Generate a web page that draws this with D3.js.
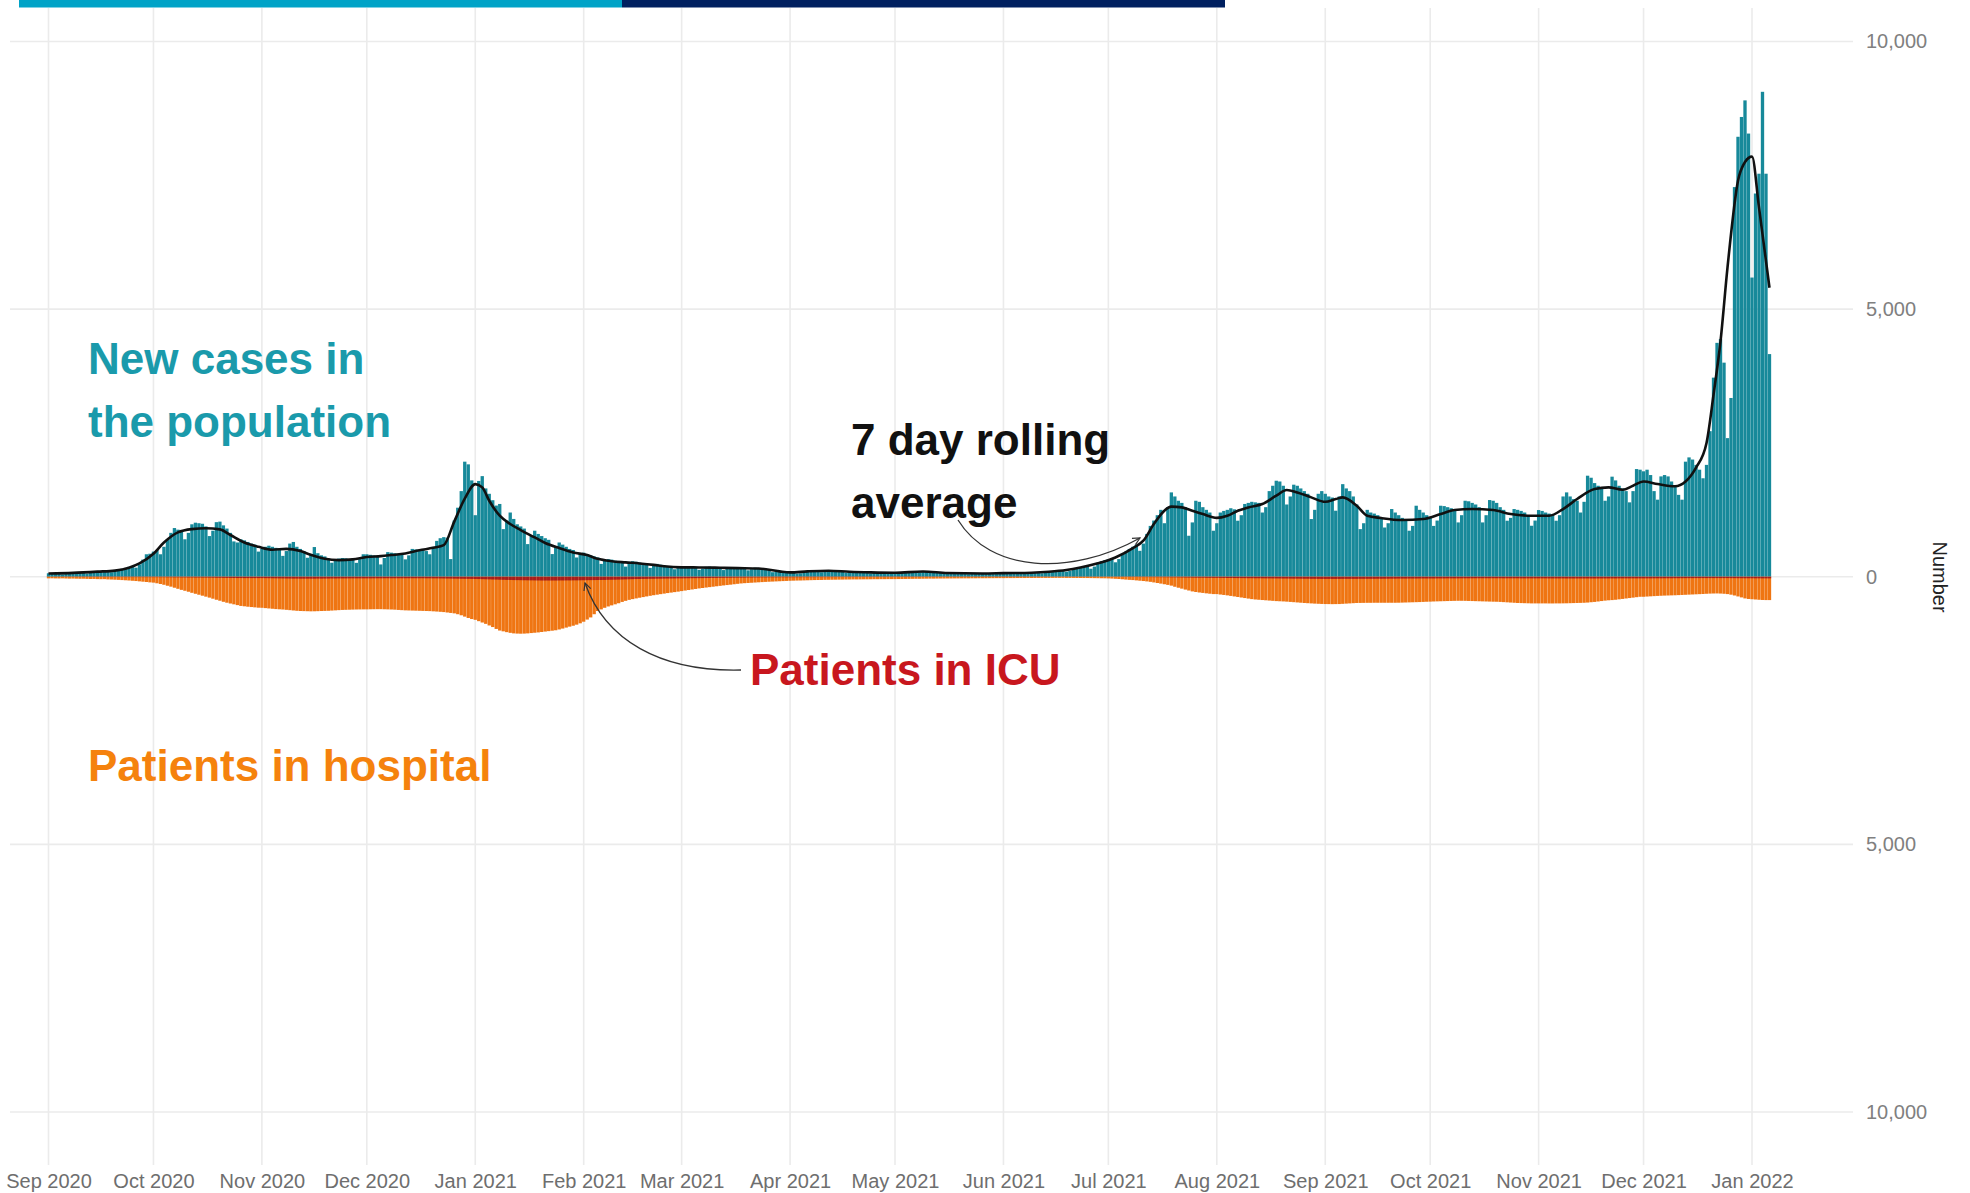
<!DOCTYPE html>
<html><head><meta charset="utf-8">
<script src="https://cdn.jsdelivr.net/npm/d3@7"></script>
<style>
body{margin:0;background:#fff;}
svg{display:block;font-family:"Liberation Sans",Arial,sans-serif;}
</style>
</head><body>
<svg id="chart" width="1970" height="1193"></svg>
<script>
// ---------------- DATA ----------------
const startDate = "2020-09-01"; // first daily bar
// New cases in the population (daily)
const cases = [
/*Sep20*/65,62,60,58,45,55,70,78,75,80,78,60,72,95,100,98,105,110,85,105,140,150,165,185,200,170,230,320,420,430,
/*Oct20*/470,500,420,560,700,820,910,880,860,700,820,980,1010,1000,990,940,760,860,1020,1030,960,900,820,660,640,700,680,650,620,600,470,
/*Nov20*/520,560,580,560,540,520,390,480,620,650,560,520,480,355,420,555,440,400,380,340,262,300,340,350,345,330,340,260,330,420,
/*Dec20*/420,410,400,390,230,350,460,450,440,430,420,325,400,520,510,500,505,480,420,560,670,720,740,730,330,1050,1290,1600,2150,2100,1800,
/*Jan21*/1150,1790,1880,1650,1550,1430,1330,1360,890,1050,1200,1080,980,940,900,610,760,860,800,760,720,690,424,560,640,600,560,520,500,360,430,
/*Feb21*/450,420,400,380,360,240,300,330,320,300,295,285,190,250,290,280,265,255,245,165,210,240,225,210,200,195,140,165,
/*Mar21*/190,185,190,185,180,130,150,185,190,180,175,170,125,145,180,175,170,168,160,120,140,170,165,160,150,130,85,95,110,105,95,
/*Apr21*/85,70,60,65,80,110,115,112,110,85,95,120,118,110,105,100,75,85,98,95,92,88,85,62,72,85,82,80,78,75,
/*May21*/55,65,72,90,95,98,100,80,90,105,100,92,85,80,55,62,75,72,70,68,66,48,55,68,66,64,62,65,50,58,62,
/*Jun21*/70,72,74,76,55,62,78,82,80,84,86,65,75,100,105,110,118,120,95,110,150,165,175,185,195,150,190,260,290,310,
/*Jul21*/330,350,270,330,420,470,520,560,600,485,620,800,950,1050,1150,1250,1000,1300,1576,1500,1420,1380,1300,766,1015,1420,1400,1300,1250,1200,860,
/*Aug21*/1000,1200,1230,1250,1280,1260,1047,1150,1360,1380,1400,1390,1380,1200,1300,1600,1700,1794,1780,1700,1350,1500,1720,1700,1650,1600,1550,1078,1250,1550,1600,
/*Sep21*/1550,1500,1480,1234,1500,1730,1650,1600,1500,1350,890,1000,1250,1200,1180,1150,1100,920,1000,1265,1200,1150,1100,1050,860,950,1327,1250,1200,1150,
/*Oct21*/1100,950,1050,1327,1320,1300,1280,1250,1015,1150,1420,1410,1380,1350,1300,1015,1150,1433,1420,1380,1300,1250,1047,1100,1265,1250,1230,1200,1150,953,1050,
/*Nov21*/1246,1230,1200,1180,1150,1047,1150,1500,1576,1500,1450,1420,1200,1400,1888,1850,1750,1700,1650,1420,1500,1870,1800,1700,1650,1600,1390,1600,2012,2000,
/*Dec21*/1970,2000,1900,1600,1440,1875,1900,1875,1780,1690,1530,1440,2150,2230,2190,2090,2000,1840,2090,2720,3720,4370,4440,4000,2590,3340,7280,8220,8590,8900,8280,
/*Jan22*/5590,7160,7530,9060,7530,4160
];
// Patients in hospital (daily)
const hospital = [
/*Sep20*/30,29,31,32,30,33,35,34,36,38,37,40,42,41,44,46,45,50,52,55,58,62,66,70,75,80,86,92,98,105,
/*Oct20*/110,122,135,150,168,185,205,225,245,262,280,300,318,336,354,372,390,410,430,448,468,485,500,515,530,545,552,560,566,572,578,
/*Nov20*/580,586,592,598,604,608,612,618,624,630,636,640,642,644,646,645,643,640,638,636,632,628,624,620,618,616,614,612,611,610,
/*Dec20*/610,608,607,606,606,608,610,612,615,620,624,628,630,632,634,636,638,640,642,646,650,655,660,668,676,684,700,720,745,770,790,
/*Jan21*/805,830,855,880,910,940,975,1005,1020,1035,1048,1058,1062,1064,1062,1058,1052,1046,1040,1032,1024,1016,1008,1000,985,968,950,932,915,895,870,
/*Feb21*/840,800,760,700,640,610,580,555,535,515,495,470,450,432,418,405,392,380,368,356,345,335,325,315,305,296,287,278,
/*Mar21*/268,258,248,238,228,218,210,202,194,186,178,170,162,155,148,140,132,125,120,116,112,108,104,100,96,93,90,87,84,81,78,
/*Apr21*/75,73,71,70,68,66,64,62,61,60,58,57,56,55,54,53,52,51,50,50,49,48,48,47,46,46,45,45,44,44,
/*May21*/44,43,42,41,40,39,38,38,37,36,35,35,34,33,33,32,32,31,31,30,30,30,29,29,28,28,28,27,27,26,26,
/*Jun21*/26,25,25,25,24,24,24,23,23,23,22,22,22,22,21,21,21,21,22,22,22,23,23,24,24,25,26,27,28,29,
/*Jul21*/31,34,38,42,47,53,58,62,68,74,80,87,95,106,117,128,140,152,166,187,205,222,240,257,274,285,294,302,310,317,324,
/*Aug21*/324,332,340,348,358,368,378,388,398,408,418,425,430,435,440,445,450,455,458,461,465,470,475,480,485,490,494,498,502,505,508,
/*Sep21*/510,511,512,511,510,506,502,498,494,490,489,488,487,487,486,486,486,486,486,486,486,485,483,481,479,477,475,473,470,467,
/*Oct21*/465,462,460,458,456,454,452,450,449,449,450,452,454,456,458,460,462,464,466,467,470,474,478,482,486,490,492,494,496,498,498,
/*Nov21*/498,498,498,499,499,498,498,497,496,494,492,490,488,486,482,476,470,462,454,446,440,436,430,422,414,406,398,390,382,374,
/*Dec21*/374,370,366,362,358,355,352,350,348,346,343,340,337,334,331,328,325,322,318,315,313,312,314,318,324,335,350,368,386,405,415,
/*Jan22*/420,425,430,434,436,436
];
// Patients in ICU (daily)
const icu = [
/*Sep20*/3,3,3,4,4,4,4,4,4,5,5,5,5,5,5,5,6,6,6,6,6,6,7,7,7,7,7,8,8,8,
/*Oct20*/8,8,9,9,10,10,11,11,12,12,13,13,14,14,15,15,16,17,18,19,20,21,22,23,24,24,25,25,25,25,25,
/*Nov20*/25,26,27,28,29,30,31,32,33,34,34,35,35,35,35,35,34,34,33,33,32,32,31,31,31,30,30,30,30,30,
/*Dec20*/30,30,29,29,29,28,28,28,28,28,28,28,28,28,28,28,28,29,29,30,30,31,32,33,34,35,36,37,38,39,40,
/*Jan21*/41,43,45,47,49,51,53,55,57,59,60,62,63,64,65,66,67,68,69,70,70,70,70,70,69,69,68,68,67,67,66,
/*Feb21*/65,64,63,62,61,60,59,57,56,55,53,51,49,47,45,43,42,40,39,38,37,36,35,34,33,32,31,30,
/*Mar21*/30,29,28,27,26,26,25,24,23,22,21,20,19,19,18,17,16,16,15,14,14,13,13,12,12,11,11,11,10,10,10,
/*Apr21*/10,9,9,9,8,8,8,8,7,7,7,7,7,6,6,6,6,6,6,5,5,5,5,5,5,5,5,5,5,5,
/*May21*/5,5,5,5,5,5,4,4,4,4,4,4,4,4,4,4,4,4,4,4,4,4,4,4,4,4,4,4,4,4,4,
/*Jun21*/4,4,4,4,4,4,4,3,3,3,3,3,3,3,3,3,3,3,3,3,3,3,3,3,3,3,3,3,3,3,
/*Jul21*/3,3,3,4,4,4,5,5,5,6,6,7,7,8,8,9,9,10,11,11,12,13,14,15,16,17,18,18,19,20,20,
/*Aug21*/20,21,22,23,23,24,25,25,26,27,27,28,28,29,30,30,31,31,32,33,33,34,35,35,36,37,37,38,38,39,40,
/*Sep21*/40,40,40,40,40,39,39,39,39,39,38,38,38,38,38,37,37,36,36,35,35,34,34,34,33,33,33,32,32,32,
/*Oct21*/32,32,31,31,31,30,30,30,30,29,29,29,29,28,28,28,28,28,28,28,28,29,29,29,29,29,30,30,30,30,30,
/*Nov21*/30,30,30,31,31,31,31,31,32,32,32,32,32,32,32,32,32,32,31,31,31,31,31,30,30,30,30,30,30,30,
/*Dec21*/30,30,30,29,29,29,28,28,28,27,27,27,26,26,26,25,25,25,25,25,25,25,25,25,25,26,26,27,27,28,28,
/*Jan22*/28,29,29,30,30,30
];
// 7 day rolling average of new cases (read at points along the curve)
const rollDates = ["2020-09-01","2020-09-08","2020-09-15","2020-09-20","2020-09-24","2020-09-27","2020-10-01","2020-10-04","2020-10-08","2020-10-12","2020-10-16","2020-10-20","2020-10-23","2020-10-27","2020-10-31",
"2020-11-04","2020-11-08","2020-11-12","2020-11-15","2020-11-19","2020-11-23","2020-11-27","2020-12-01","2020-12-05","2020-12-08","2020-12-12","2020-12-16","2020-12-20","2020-12-23","2020-12-26","2020-12-29",
"2021-01-01","2021-01-03","2021-01-05","2021-01-08","2021-01-11","2021-01-14","2021-01-18","2021-01-21","2021-01-25","2021-01-29","2021-02-02","2021-02-05","2021-02-09","2021-02-13","2021-02-17","2021-02-21","2021-02-24",
"2021-03-01","2021-03-06","2021-03-12","2021-03-17","2021-03-23","2021-03-29","2021-04-01","2021-04-06","2021-04-12","2021-04-18","2021-04-24","2021-05-01","2021-05-09","2021-05-16","2021-05-26",
"2021-06-01","2021-06-09","2021-06-14","2021-06-19","2021-06-23","2021-06-28","2021-07-03","2021-07-08","2021-07-11","2021-07-14","2021-07-17","2021-07-19","2021-07-22","2021-07-25","2021-07-28",
"2021-08-01","2021-08-04","2021-08-07","2021-08-10","2021-08-14","2021-08-18","2021-08-21","2021-08-24","2021-08-28","2021-09-01","2021-09-04","2021-09-06","2021-09-10","2021-09-13","2021-09-17","2021-09-23","2021-09-29",
"2021-10-04","2021-10-08","2021-10-13","2021-10-19","2021-10-24","2021-10-30","2021-11-04","2021-11-08","2021-11-12","2021-11-17","2021-11-21","2021-11-25","2021-11-28",
"2021-12-01","2021-12-05","2021-12-10","2021-12-13","2021-12-16","2021-12-19","2021-12-21","2021-12-23","2021-12-25","2021-12-28","2021-12-30","2022-01-01","2022-01-03","2022-01-06"];
const rollValues = [60,72,95,115,170,250,430,640,830,890,905,885,780,640,560,
505,520,480,410,335,310,325,370,385,405,435,495,540,590,1030,1460,
1730,1670,1420,1140,985,872,735,630,536,455,405,335,290,268,249,222,195,
175,174,168,162,155,100,82,100,112,93,82,76,98,70,62,
68,76,93,125,172,250,360,536,673,984,1234,1310,1296,1234,1171,
1100,1140,1234,1296,1358,1514,1620,1576,1483,1400,1452,1483,1327,1140,1096,1059,1078,
1171,1246,1265,1246,1171,1140,1140,1265,1452,1638,1670,1626,1701,
1780,1732,1690,1780,2040,2500,3400,4400,5780,7400,7750,7850,6900,5400];
// axis ticks
const monthTicks = ["2020-09-01","2020-10-01","2020-11-01","2020-12-01","2021-01-01","2021-02-01","2021-03-01","2021-04-01","2021-05-01","2021-06-01","2021-07-01","2021-08-01","2021-09-01","2021-10-01","2021-11-01","2021-12-01","2022-01-01"];
const yTickValues = [10000, 5000, 0, -5000, -10000];
const yAxisTitle = "Number";
const labelCases = ["New cases in", "the population"];
const labelRoll = ["7 day rolling", "average"];
const labelICU = "Patients in ICU";
const labelHosp = "Patients in hospital";

// ---------------- CHART ----------------
const svg = d3.select("#chart");
const parse = d3.utcParse("%Y-%m-%d");
const t0 = parse(startDate);
const dates = cases.map((_, i) => d3.utcDay.offset(t0, i));

const x = d3.scaleUtc()
  .domain([parse("2020-09-01"), parse("2022-01-01")])
  .range([48.5, 1752]);
const y = d3.scaleLinear().domain([-10000, 10000]).range([1112, 41.5]);
const dayW = x(parse("2020-09-02")) - x(parse("2020-09-01"));
const bw = dayW * 0.95;

// top decorative strip
svg.append("rect").attr("x", 19).attr("y", 0).attr("width", 603).attr("height", 7.5).attr("fill", "#00A3C7");
svg.append("rect").attr("x", 622).attr("y", 0).attr("width", 603).attr("height", 7.5).attr("fill", "#002060");

// grid
const grid = svg.append("g");
grid.selectAll("line.h").data(yTickValues).join("line")
  .attr("x1", 10).attr("x2", 1853)
  .attr("y1", d => y(d)).attr("y2", d => y(d))
  .attr("stroke", "#ebebeb").attr("stroke-width", 1.6);
grid.selectAll("line.v").data(monthTicks.map(parse)).join("line")
  .attr("y1", 8).attr("y2", 1165)
  .attr("x1", d => x(d)).attr("x2", d => x(d))
  .attr("stroke", "#ebebeb").attr("stroke-width", 1.6);

// bars
svg.append("g").selectAll("rect").data(cases).join("rect")
  .attr("x", (d, i) => x(dates[i]) - bw / 2).attr("width", bw)
  .attr("y", d => y(d)).attr("height", d => y(0) - y(d))
  .attr("fill", "#17899A");
svg.append("g").selectAll("rect").data(hospital).join("rect")
  .attr("x", (d, i) => x(dates[i]) - bw / 2).attr("width", bw)
  .attr("y", y(0)).attr("height", d => y(-d) - y(0))
  .attr("fill", "#EF7512");
svg.append("g").selectAll("rect").data(icu).join("rect")
  .attr("x", (d, i) => x(dates[i]) - bw / 2).attr("width", bw)
  .attr("y", y(0)).attr("height", d => y(-d) - y(0))
  .attr("fill", "#A81C1C");

// rolling average line
const rollData = rollDates.map((d, i) => ({date: parse(d), value: rollValues[i]}));
svg.append("path").datum(rollData)
  .attr("fill", "none").attr("stroke", "#111").attr("stroke-width", 2.6)
  .attr("stroke-linejoin", "round")
  .attr("d", d3.line().x(d => x(d.date)).y(d => y(d.value)).curve(d3.curveMonotoneX));

// axes
const yAxis = svg.append("g").attr("transform", "translate(1866,0)")
  .call(d3.axisRight(y).tickValues(yTickValues).tickSize(0).tickPadding(0)
    .tickFormat(d => d3.format(",")(Math.abs(d))));
yAxis.select(".domain").remove();
yAxis.selectAll("text").attr("font-size", 20).attr("fill", "#808080")
  .attr("font-family", "Liberation Sans, Arial, sans-serif");

const xAxis = svg.append("g").attr("transform", "translate(0,1166)")
  .call(d3.axisBottom(x).tickValues(monthTicks.map(parse)).tickSize(0).tickPadding(8)
    .tickFormat(d3.utcFormat("%b %Y")));
xAxis.select(".domain").remove();
xAxis.selectAll("text").attr("font-size", 20).attr("fill", "#6e6e6e")
  .attr("font-family", "Liberation Sans, Arial, sans-serif");

svg.append("text").attr("transform", "translate(1933,577) rotate(90)")
  .attr("text-anchor", "middle").attr("font-size", 20).attr("fill", "#222")
  .text(yAxisTitle);

// annotation labels
const lab = (txt, xx, yy, col) => svg.append("text").attr("x", xx).attr("y", yy)
  .attr("font-size", 44).attr("font-weight", "bold").attr("fill", col).text(txt);
lab(labelCases[0], 88, 374, "#1A9AAB");
lab(labelCases[1], 88, 437, "#1A9AAB");
lab(labelRoll[0], 851, 455, "#111");
lab(labelRoll[1], 851, 518, "#111");
lab(labelICU, 750, 685, "#C8171E");
lab(labelHosp, 88, 781, "#F5820D");

// arrows
const defs = svg.append("defs");
defs.append("marker").attr("id", "arr").attr("viewBox", "0 0 10 10")
  .attr("refX", 9).attr("refY", 5).attr("markerWidth", 9).attr("markerHeight", 9)
  .attr("orient", "auto").attr("markerUnits", "userSpaceOnUse")
  .append("path").attr("d", "M1,1 L9,5 L1,9").attr("fill", "none")
  .attr("stroke", "#333").attr("stroke-width", 1.3);
svg.append("path").attr("d", "M958,520 C990,572 1070,577 1140,538")
  .attr("fill", "none").attr("stroke", "#333").attr("stroke-width", 1.3).attr("marker-end", "url(#arr)");
svg.append("path").attr("d", "M741,670 C660,672 605,640 585,583")
  .attr("fill", "none").attr("stroke", "#333").attr("stroke-width", 1.3).attr("marker-end", "url(#arr)");
</script>
</body></html>
